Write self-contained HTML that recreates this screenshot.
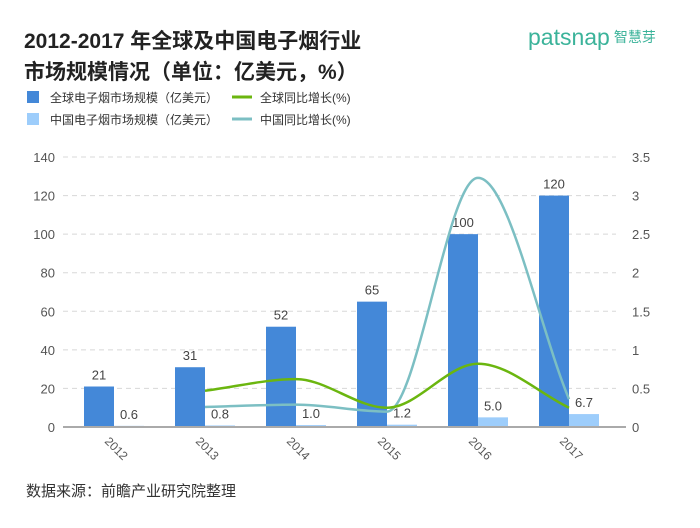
<!DOCTYPE html>
<html><head><meta charset="utf-8"><style>
body{margin:0;width:700px;height:528px;background:#fff;font-family:"Liberation Sans","Noto Sans CJK SC",sans-serif;overflow:hidden;position:relative}
.t{position:absolute;left:24px;top:26px;font-size:21px;font-weight:bold;color:#222;line-height:31px;font-family:"Liberation Sans","Noto Sans CJK SC",sans-serif}
.logo{position:absolute;left:528px;top:24px;font-size:23px;color:#3bb39a;letter-spacing:0px}
.logo span{font-size:14px;color:#3bb39a;font-weight:normal;margin-left:4px;vertical-align:3px}
.src{position:absolute;left:26px;top:480px;font-size:15px;color:#333}
</style></head><body>
<div class="t">2012-2017 年全球及中国电子烟行业<br>市场规模情况（单位：亿美元，%）</div>
<div class="logo">patsnap<span>智慧芽</span></div>
<svg width="700" height="528" style="position:absolute;left:0;top:0" id="c" font-family="Liberation Sans, Noto Sans CJK SC, sans-serif">
<g font-size="12" fill="#333">
<rect x="27" y="91" width="12" height="12" fill="#4488d8"/><text x="50" y="102">全球电子烟市场规模（亿美元）</text>
<rect x="27" y="113" width="12" height="12" fill="#9dcdfb"/><text x="50" y="124">中国电子烟市场规模（亿美元）</text>
<line x1="232" y1="97" x2="252" y2="97" stroke="#6bb60f" stroke-width="3"/><text x="260" y="102">全球同比增长(%)</text>
<line x1="232" y1="119" x2="252" y2="119" stroke="#7cbfc3" stroke-width="3"/><text x="260" y="124">中国同比增长(%)</text>
</g>
</svg>
<div class="src">数据来源：前瞻产业研究院整理</div>
<script>
const years=["2012","2013","2014","2015","2016","2017"];
const globalMarket=[21,31,52,65,100,120];
const chinaMarket=[0.6,0.8,1.0,1.2,5.0,6.7];
const globalGrowth=[null,0.47,0.62,0.25,0.82,0.25];
const chinaGrowth=[null,0.26,0.29,0.2,3.23,0.36];
const leftTicks=[0,20,40,60,80,100,120,140];
const rightTicks=["0","0.5","1","1.5","2","2.5","3","3.5"];
const svg=document.getElementById('c');
const NS="http://www.w3.org/2000/svg";
function el(t,a,p){const e=document.createElementNS(NS,t);for(const k in a)e.setAttribute(k,a[k]);(p||svg).appendChild(e);return e;}
const y0=427,h=270;
const yL=v=>y0-v/140*h, yR=v=>y0-v/3.5*h;
const xC=i=>114+i*91;
leftTicks.forEach((v,i)=>{
 if(v>0){const g=el('line',{x1:63,x2:616,y1:yL(v),y2:yL(v),stroke:'#d8d8d8','stroke-dasharray':'5,4'});
 
 }
 const t=el('text',{x:55,y:yL(v)+5,'text-anchor':'end','font-size':13,fill:'#555'});t.textContent=v;
 
 
 const r=el('text',{x:632,y:yL(v)+5,'font-size':13,fill:'#555'});r.textContent=rightTicks[i];
 
 
});
years.forEach((y,i)=>{
 const x=xC(i);
 const b=el('rect',{x:x-30,y:yL(globalMarket[i]),width:30,height:y0-yL(globalMarket[i]),fill:'#4488d8'});
 
 
 const c=el('rect',{x:x,y:yL(chinaMarket[i]),width:30,height:y0-yL(chinaMarket[i]),fill:'#9dcdfb'});
 
 
 const l1=el('text',{x:x-15,y:yL(globalMarket[i])-7,'text-anchor':'middle','font-size':13,fill:'#444'});l1.textContent=globalMarket[i];
 
 
 const l2=el('text',{x:x+15,y:Math.min(yL(chinaMarket[i])-7,y0-7),'text-anchor':'middle','font-size':13,fill:'#444'});l2.textContent=chinaMarket[i].toFixed(1);
 
 
 const xl=el('text',{x:x-10,y:442,'font-size':12,fill:'#555',transform:`rotate(45 ${x-10} 442)`});xl.textContent=y;
 
 
});
const ax=el('line',{x1:63,x2:626,y1:y0,y2:y0,stroke:'#aaa','stroke-width':2});


function curve(vals,color,name){
 const P=[];vals.forEach((v,i)=>{if(v!==null)P.push([xC(i),yR(v)]);});
 const n=P.length,d=[],m=[];
 for(let i=0;i<n-1;i++)d.push((P[i+1][1]-P[i][1])/(P[i+1][0]-P[i][0]));
 m[0]=d[0];m[n-1]=d[n-2];
 for(let i=1;i<n-1;i++)m[i]=(d[i-1]*d[i]<=0)?0:(d[i-1]+d[i])/2;
 let s=`M${P[0][0]},${P[0][1]}`;
 for(let i=0;i<n-1;i++){const dx=(P[i+1][0]-P[i][0])/3;
  s+=` C${P[i][0]+dx},${P[i][1]+m[i]*dx} ${P[i+1][0]-dx},${P[i+1][1]-m[i+1]*dx} ${P[i+1][0]},${P[i+1][1]}`;}
 const p=el('path',{d:s,fill:'none',stroke:color,'stroke-width':2.5});
 
 
}
curve(chinaGrowth,'#7cbfc3','line-china-growth');
curve(globalGrowth,'#6bb60f','line-global-growth');
</script>
</body></html>
